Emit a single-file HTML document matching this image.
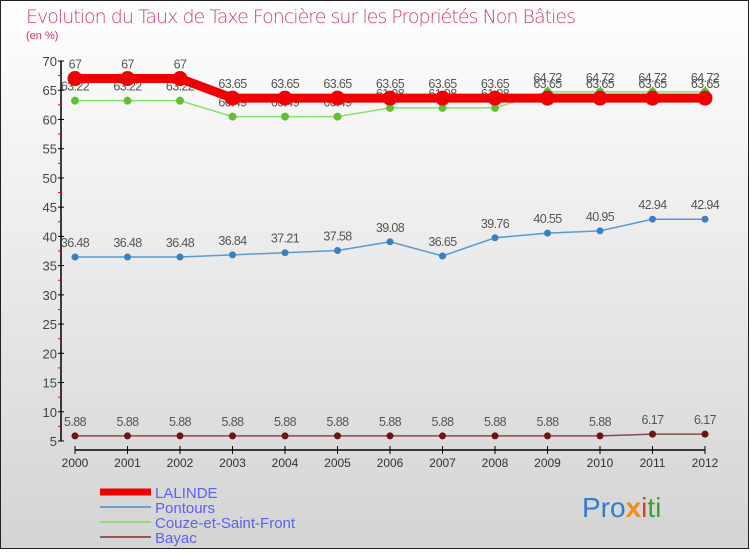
<!DOCTYPE html>
<html><head><meta charset="utf-8"><style>
body{margin:0;width:750px;height:550px;overflow:hidden;font-family:"Liberation Sans",sans-serif}
</style></head><body>
<svg id="c" width="750" height="550" xmlns="http://www.w3.org/2000/svg">
<defs><linearGradient id="bg" x1="0" y1="0" x2="0" y2="1"><stop offset="0" stop-color="#ffffff"/><stop offset="1" stop-color="#d4d4d4"/></linearGradient></defs>
<rect x="0.5" y="0.5" width="748" height="548" fill="url(#bg)" stroke="#222"/>
<text x="26" y="23" font-size="19" fill="#d04070" font-family="DejaVu Sans, sans-serif" font-weight="200" textLength="550">Evolution du Taux de Taxe Foncière sur les Propriétés Non Bâties</text>
<text x="26" y="39" font-size="11" fill="#cc3366">(en %)</text>
<g id="axes"></g><g id="series"></g><g id="legend"></g>
<text x="582" y="517" font-size="28"><tspan fill="#2a7fd4">Pro</tspan><tspan fill="#f08c1a" font-weight="bold">x</tspan><tspan fill="#e03a2a">i</tspan><tspan fill="#3aa03a">ti</tspan></text>
</svg>
<script>
const years=["2000","2001","2002","2003","2004","2005","2006","2007","2008","2009","2010","2011","2012"];
const yTicks=[5,10,15,20,25,30,35,40,45,50,55,60,65,70];
const lalinde=[67,67,67,63.65,63.65,63.65,63.65,63.65,63.65,63.65,63.65,63.65,63.65];
const pontours=[36.48,36.48,36.48,36.84,37.21,37.58,39.08,36.65,39.76,40.55,40.95,42.94,42.94];
const couze=[63.22,63.22,63.22,60.49,60.49,60.49,61.98,61.98,61.98,64.72,64.72,64.72,64.72];
const bayac=[5.88,5.88,5.88,5.88,5.88,5.88,5.88,5.88,5.88,5.88,5.88,6.17,6.17];
const NS="http://www.w3.org/2000/svg";
const X=i=>75+i*52.5, Y=v=>441-(v-5)*5.846;
function mk(t,a,p){const e=document.createElementNS(NS,t);for(const k in a)e.setAttribute(k,a[k]);p.appendChild(e);return e;}
const ax=document.getElementById('axes');
let e=mk('line',{x1:61,y1:Y(70),x2:61,y2:Y(5),stroke:'#000','stroke-width':1.5},ax);

yTicks.forEach((v,i)=>{mk('line',{x1:58,y1:Y(v),x2:64,y2:Y(v),stroke:'#000'},ax);
 if(i<yTicks.length-1)mk('line',{x1:58,y1:Y(v+2.5),x2:61,y2:Y(v+2.5),stroke:'#e00'},ax);
 const t=mk('text',{x:57,y:Y(v)+5,'font-size':13,'text-anchor':'end',fill:'#444'},ax);t.textContent=v;
 });
e=mk('line',{x1:75,y1:450,x2:705,y2:450,stroke:'#000','stroke-width':1.5},ax);

years.forEach((y,i)=>{mk('line',{x1:X(i),y1:446,x2:X(i),y2:454,stroke:'#000'},ax);
 const t=mk('text',{x:X(i),y:467,'font-size':12,'text-anchor':'middle',fill:'#333'},ax);t.textContent=y;
 });
const sg=document.getElementById('series');
function series(name,vals,col,w,r,mcol){
 const g=mk('g',{},sg);
 mk('polyline',{points:vals.map((v,i)=>X(i)+','+Y(v)).join(' '),fill:'none',stroke:col,'stroke-width':w},g);
 vals.forEach((v,i)=>{const c=mk('circle',{cx:X(i),cy:Y(v),r:r,fill:mcol},g);
  
  const t=mk('text',{x:X(i),y:Y(v)-10,'font-size':12.5,'text-anchor':'middle',fill:'#555','letter-spacing':'-0.6'},g);
  t.textContent=v;});
}
series('bayac',bayac,'#8b4a4a',1.5,3.5,'#6a1515');
series('pontours',pontours,'#5a9ad0',1.5,3.5,'#3a80c0');
series('couze',couze,'#90dd70',1.5,4,'#60c030');
series('lalinde',lalinde,'#ee0000',9,7.5,'#ee0000');
const lg=document.getElementById('legend');
[['LALINDE','#ee0000',7],['Pontours','#6aa0cc',2],['Couze-et-Saint-Front','#90dd70',2],['Bayac','#8b5a5a',2]].forEach((d,i)=>{
 const y=492+i*15;const g=mk('g',{},lg);
 mk('line',{x1:100,y1:y,x2:151,y2:y,stroke:d[1],'stroke-width':d[2]},g);
 const t=mk('text',{x:155,y:y+6,'font-size':15,fill:'#6060f0'},g);t.textContent=d[0];});
</script>
</body></html>
